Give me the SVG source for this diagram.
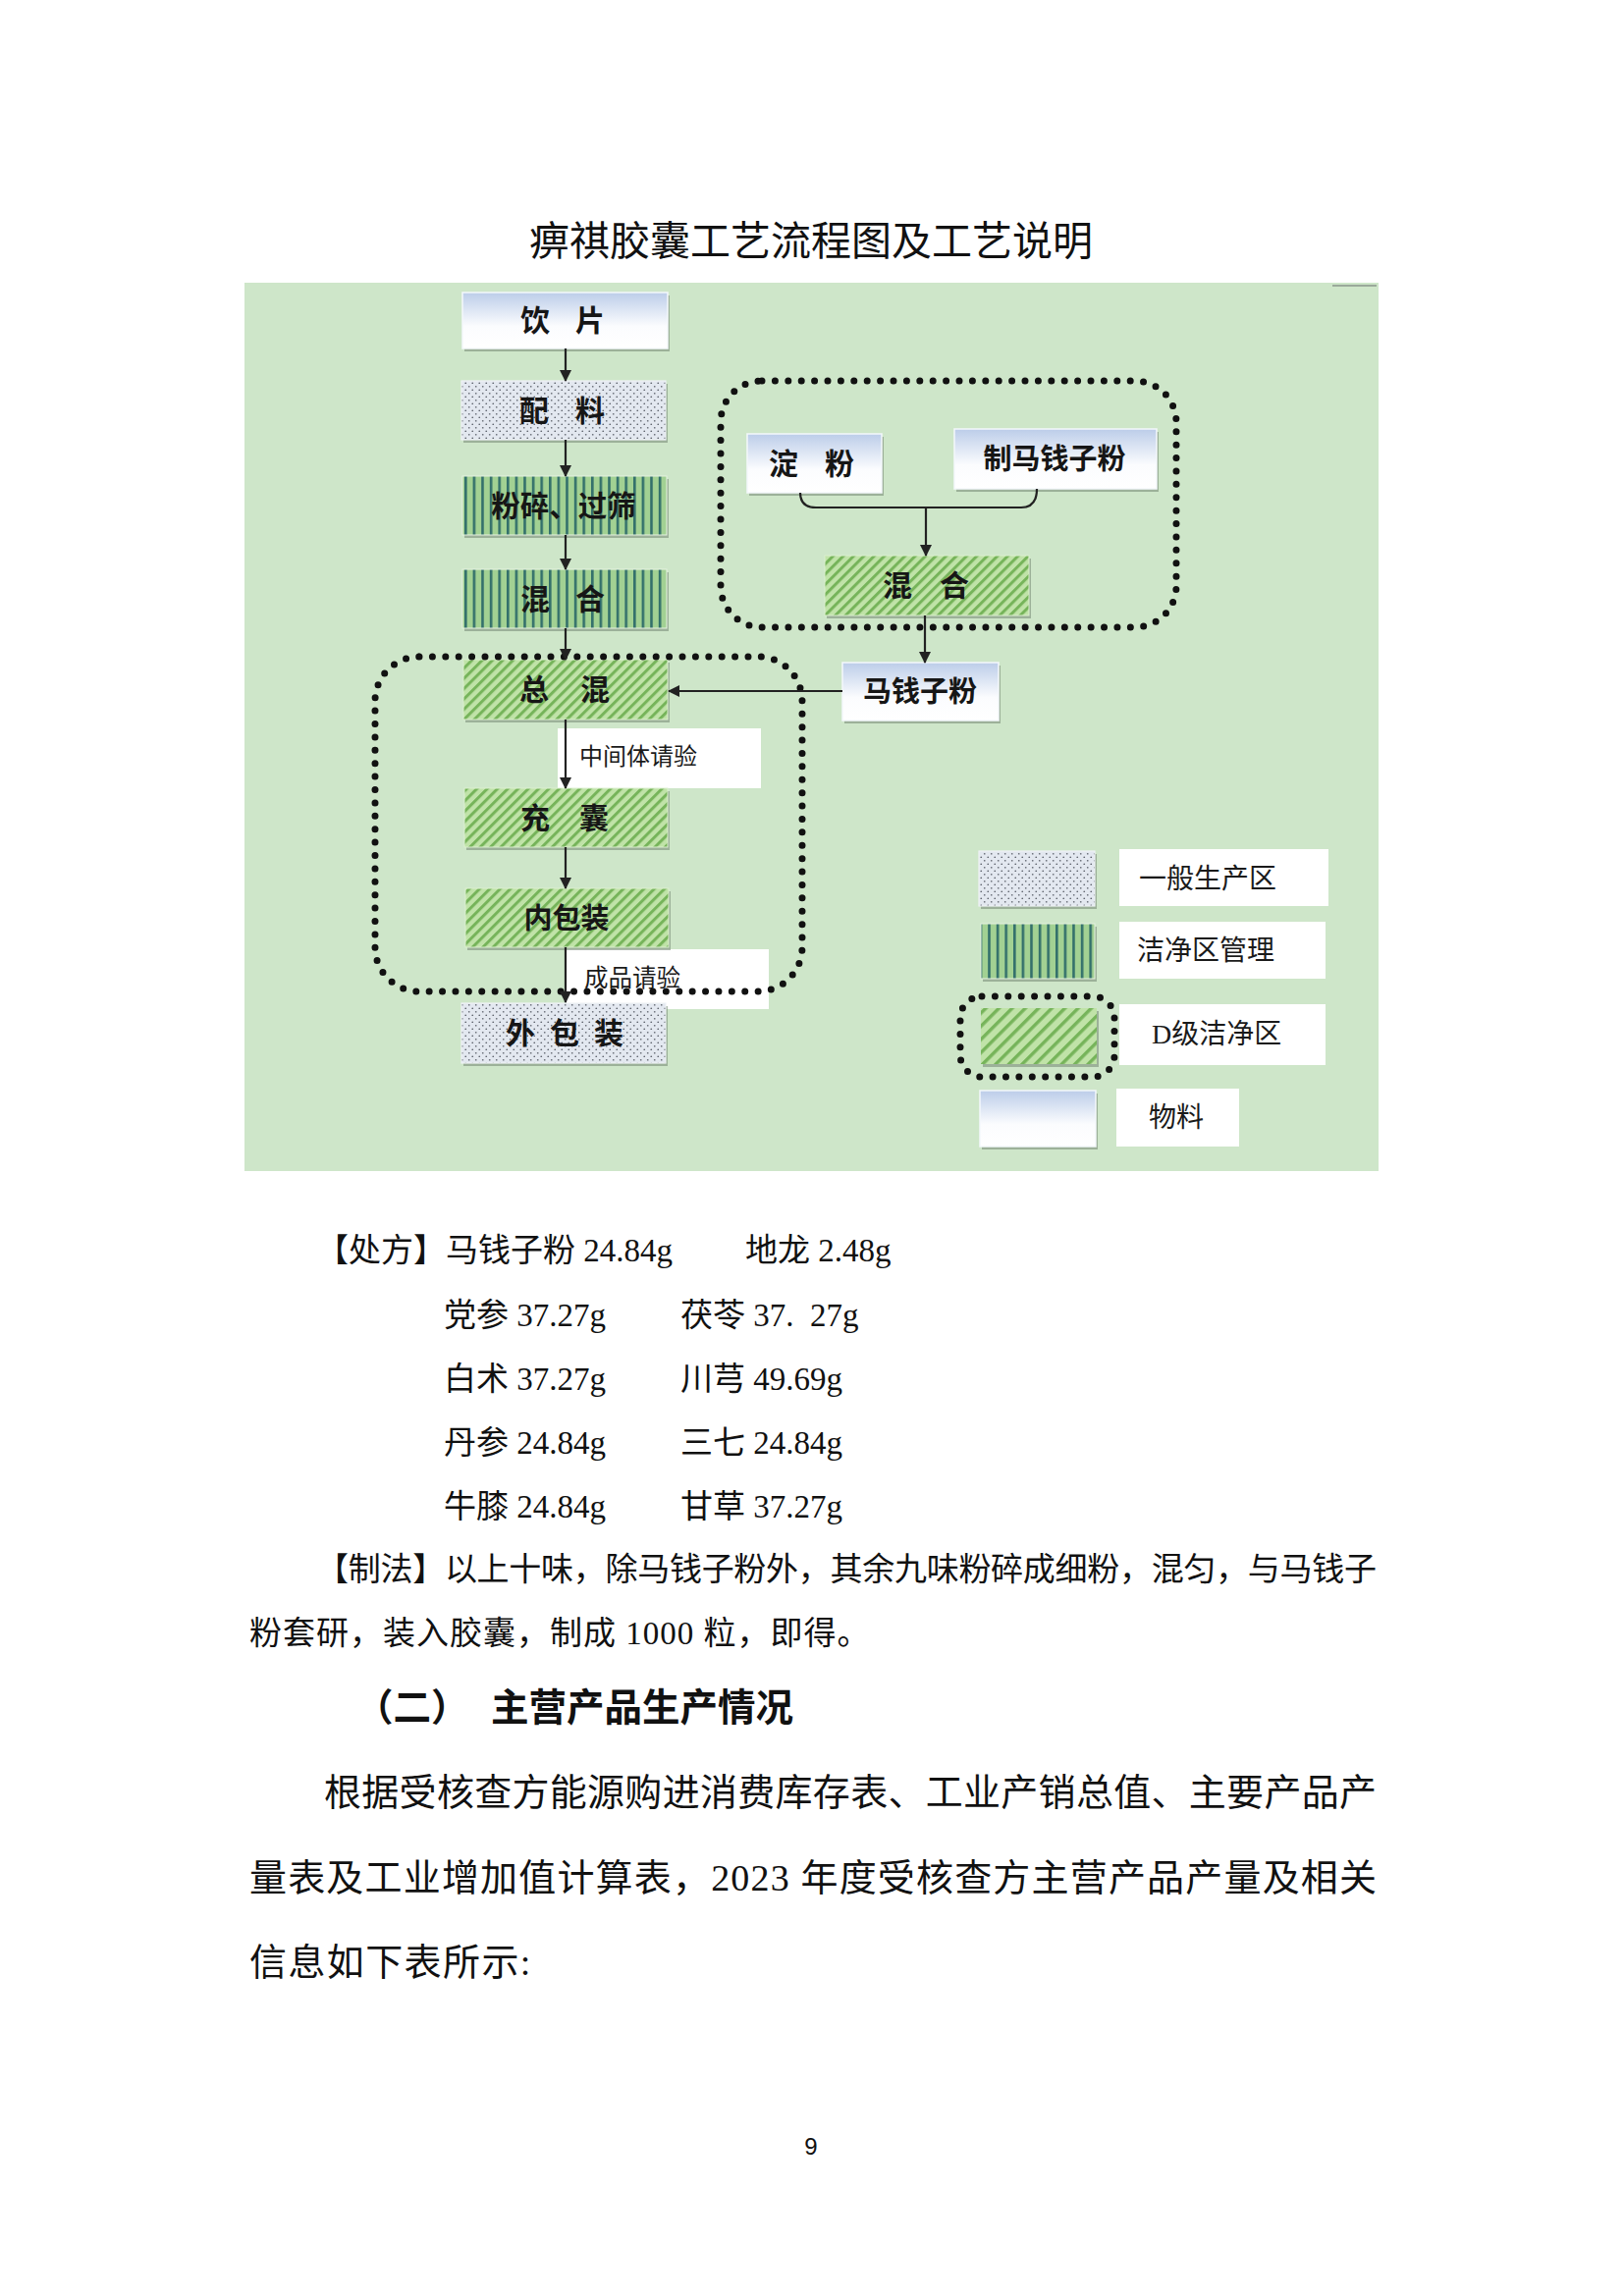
<svg xmlns="http://www.w3.org/2000/svg" width="1654" height="2339" viewBox="0 0 1654 2339">
<style>
.body{font-family:"Liberation Serif","Noto Sans CJK SC",serif;font-size:33px;fill:#111}
.para{font-family:"Liberation Serif","Noto Sans CJK SC",serif;font-size:38px;fill:#111}
.h2{font-family:"Noto Sans CJK SC","Noto Sans",sans-serif;font-size:38.5px;font-weight:700;fill:#111}
.lbl{font-family:"Noto Sans CJK SC","Noto Sans",sans-serif;font-size:30px;font-weight:700;fill:#161616}
.note{font-family:"Noto Sans CJK SC","Noto Sans",sans-serif;font-size:24px;fill:#1a1a1a}
.leg{font-family:"Liberation Serif","Noto Sans CJK SC",sans-serif;font-size:28px;fill:#1a1a1a}
.sh{fill:#7c8e79;opacity:0.6}
.mat{fill:url(#matGrad);stroke:#f4f8fb;stroke-width:1.5}
.gen{fill:url(#dots);stroke:#eef2f6;stroke-width:1.2}
.cln{fill:url(#vstripe);stroke:#e6f2e2;stroke-width:1}
.dzone{fill:url(#hatch);stroke:#dcefd0;stroke-width:1}
.white{fill:#ffffff}
.dotted{fill:none;stroke:#111;stroke-width:7;stroke-linecap:round;stroke-dasharray:0 13.4}
.conn{fill:none;stroke:#222;stroke-width:2.2}
</style>
<defs>
<linearGradient id="matGrad" x1="0" y1="0" x2="0" y2="1">
<stop offset="0" stop-color="#bccde9"/>
<stop offset="0.6" stop-color="#fbfcfe"/>
<stop offset="1" stop-color="#ffffff"/>
</linearGradient>
<pattern id="dots" width="7" height="7" patternUnits="userSpaceOnUse">
<rect width="7" height="7" fill="#e3e8f0"/>
<circle cx="1.75" cy="1.75" r="0.85" fill="#5f646e"/>
<circle cx="5.25" cy="5.25" r="0.85" fill="#5f646e"/>
</pattern>
<pattern id="vstripe" width="8.6" height="10" patternUnits="userSpaceOnUse">
<rect width="8.6" height="10" fill="#a2d193"/>
<rect x="0" width="2.6" height="10" fill="#33706b"/>
</pattern>
<pattern id="hatch" width="7.4" height="10" patternUnits="userSpaceOnUse" patternTransform="rotate(45)">
<rect width="7.4" height="10" fill="#c0e3a8"/>
<rect width="3" height="10" fill="#76b45a"/>
</pattern>
<pattern id="hatchL" width="9.5" height="10" patternUnits="userSpaceOnUse" patternTransform="rotate(45)">
<rect width="9.5" height="10" fill="#c0e3a8"/>
<rect width="3.4" height="10" fill="#76b45a"/>
</pattern>
<marker id="arr" viewBox="0 0 12 12" refX="11" refY="6" markerWidth="12" markerHeight="12" markerUnits="userSpaceOnUse" orient="auto">
<path d="M0,0 L12,6 L0,12 z" fill="#222"/>
</marker>
</defs>

<rect x="0" y="0" width="1654" height="2339" fill="#ffffff"/>

<text x="826" y="260" text-anchor="middle" style="font-family:'Liberation Serif','Noto Sans CJK SC',serif;font-size:41px;fill:#111">痹祺胶囊工艺流程图及工艺说明</text>

<g id="panel">
<rect x="249" y="288" width="1155" height="905" fill="#cee6c9"/>
<line x1="1357" y1="291" x2="1402" y2="291" stroke="#9aa99a" stroke-width="2"/>
</g>

<g id="labels-white">
<rect class="white" x="568" y="742" width="207" height="61"/>
<text class="note" x="590" y="779">中间体请验</text>
<rect class="white" x="577" y="967" width="206" height="61"/>
<text class="note" x="595" y="1005" style="font-size:24.5px">成品请验</text>
</g>

<g id="n-yinpian">
<rect class="sh" x="473" y="301" width="209" height="57"/>
<rect class="mat" x="471" y="298" width="209" height="57"/>
<text class="lbl" x="530 560 586" y="337">饮 片</text>
</g>
<g id="n-peiliao">
<rect class="sh" x="472" y="391" width="208" height="60"/>
<rect class="gen" x="470" y="388" width="208" height="60"/>
<text class="lbl" x="529 560 586" y="429">配 料</text>
</g>
<g id="n-fensui">
<rect class="sh" x="473" y="488" width="208" height="60"/>
<rect class="cln" x="471" y="485" width="208" height="60"/>
<text class="lbl" x="574" y="526" text-anchor="middle" style="font-size:29.5px">粉碎、过筛</text>
</g>
<g id="n-hunhe1">
<rect class="sh" x="473" y="583" width="208" height="60"/>
<rect class="cln" x="471" y="580" width="208" height="60"/>
<text class="lbl" x="530 560 586" y="621">混 合</text>
</g>
<g id="n-zonghun">
<rect class="sh" x="474" y="675" width="208" height="61"/>
<rect class="dzone" x="472" y="672" width="208" height="61"/>
<text class="lbl" x="529 560 591" y="713">总 混</text>
</g>
<g id="n-chongnang">
<rect class="sh" x="475" y="806" width="207" height="60"/>
<rect class="dzone" x="473" y="803" width="207" height="60"/>
<text class="lbl" x="530 560 590" y="844">充 囊</text>
</g>
<g id="n-neibaozhuang">
<rect class="sh" x="476" y="908" width="207" height="60"/>
<rect class="dzone" x="474" y="905" width="207" height="60"/>
<text class="lbl" x="577" y="946" text-anchor="middle" style="font-size:29px">内包装</text>
</g>
<g id="n-waibaozhuang">
<rect class="sh" x="472" y="1025" width="208" height="61"/>
<rect class="gen" x="470" y="1022" width="208" height="61"/>
<text class="lbl" x="515 545 560 590 605" y="1063">外 包 装</text>
</g>
<g id="n-dianfen">
<rect class="sh" x="763" y="445" width="137" height="60"/>
<rect class="mat" x="761" y="442" width="137" height="60"/>
<text class="lbl" x="783 815 840" y="483">淀 粉</text>
</g>
<g id="n-zhimaqianzifen">
<rect class="sh" x="974" y="440" width="206" height="61"/>
<rect class="mat" x="972" y="437" width="206" height="61"/>
<text class="lbl" x="1074" y="478" text-anchor="middle" style="font-size:29px">制马钱子粉</text>
</g>
<g id="n-hunhe2">
<rect class="sh" x="842" y="569" width="208" height="61"/>
<rect class="dzone" x="840" y="566" width="208" height="61"/>
<text class="lbl" x="899 930 957" y="607">混 合</text>
</g>
<g id="n-maqianzifen">
<rect class="sh" x="860" y="678" width="159" height="59"/>
<rect class="mat" x="858" y="675" width="159" height="59"/>
<text class="lbl" x="937" y="715" text-anchor="middle" style="font-size:29px">马钱子粉</text>
</g>

<g id="zones">
<rect class="dotted" x="734" y="388" width="464" height="251" rx="42"/>
<rect class="dotted" x="382" y="669" width="435" height="341" rx="45"/>
</g>

<g id="connectors">
<line class="conn" x1="576" y1="355" x2="576" y2="388" marker-end="url(#arr)"/>
<line class="conn" x1="576" y1="448" x2="576" y2="485" marker-end="url(#arr)"/>
<line class="conn" x1="576" y1="545" x2="576" y2="580" marker-end="url(#arr)"/>
<line class="conn" x1="576" y1="640" x2="576" y2="672" marker-end="url(#arr)"/>
<line class="conn" x1="576" y1="733" x2="576" y2="803" marker-end="url(#arr)"/>
<line class="conn" x1="576" y1="863" x2="576" y2="905" marker-end="url(#arr)"/>
<line class="conn" x1="576" y1="965" x2="576" y2="1021" marker-end="url(#arr)"/>
<path class="conn" d="M815,502 Q815,517 831,517 L1040,517 Q1056,517 1056,498"/>
<line class="conn" x1="943" y1="517" x2="943" y2="566" marker-end="url(#arr)"/>
<line class="conn" x1="942" y1="627" x2="942" y2="675" marker-end="url(#arr)"/>
<line class="conn" x1="858" y1="704" x2="681" y2="704" marker-end="url(#arr)"/>
</g>

<g id="legend">
<g id="leg-general">
<rect class="sh" x="999" y="870" width="118" height="56"/>
<rect class="gen" x="997" y="867" width="118" height="56"/>
<rect class="white" x="1140" y="865" width="213" height="58"/>
<text class="leg" x="1160" y="905">一般生产区</text>
</g>
<g id="leg-clean">
<rect class="sh" x="1001" y="944" width="116" height="56"/>
<rect class="cln" x="999" y="941" width="116" height="56"/>
<rect class="white" x="1140" y="939" width="210" height="58"/>
<text class="leg" x="1158" y="978">洁净区管理</text>
</g>
<g id="leg-d">
<rect class="sh" x="1001" y="1030" width="118" height="57"/>
<rect x="999" y="1027" width="118" height="57" fill="url(#hatchL)"/>
<rect class="dotted" x="978" y="1015" width="157" height="82" rx="22"/>
<rect class="white" x="1140" y="1023" width="210" height="62"/>
<text class="leg" x="1173" y="1063">D级洁净区</text>
</g>
<g id="leg-material">
<rect class="sh" x="1000" y="1114" width="118" height="57"/>
<rect class="mat" x="998" y="1111" width="118" height="57"/>
<rect class="white" x="1137" y="1109" width="125" height="59"/>
<text class="leg" x="1170" y="1148">物料</text>
</g>
</g>

<g id="text-body">
<text class="body" x="322" y="1285">【处方】马钱子粉 24.84g</text>
<text class="body" x="759" y="1285">地龙 2.48g</text>
<text class="body" x="452" y="1351">党参 37.27g</text>
<text class="body" x="693" y="1351" xml:space="preserve">茯苓 37.  27g</text>
<text class="body" x="452" y="1416">白术 37.27g</text>
<text class="body" x="693" y="1416">川芎 49.69g</text>
<text class="body" x="452" y="1481">丹参 24.84g</text>
<text class="body" x="693" y="1481">三七 24.84g</text>
<text class="body" x="452" y="1546">牛膝 24.84g</text>
<text class="body" x="693" y="1546">甘草 37.27g</text>
<text class="body" x="322" y="1610" textLength="1080" lengthAdjust="spacing">【制法】以上十味，除马钱子粉外，其余九味粉碎成细粉，混匀，与马钱子</text>
<text class="body" x="254" y="1675" style="letter-spacing:1px">粉套研，装入胶囊，制成 1000 粒，即得。</text>
<text class="h2" x="362" y="1753">（二）<tspan x="500">主营产品生产情况</tspan></text>
<text class="para" x="330" y="1839" textLength="1072" lengthAdjust="spacing">根据受核查方能源购进消费库存表、工业产销总值、主要产品产</text>
<text class="para" x="254" y="1926" textLength="1148" lengthAdjust="spacing">量表及工业增加值计算表，2023 年度受核查方主营产品产量及相关</text>
<text class="para" x="254" y="2012" style="letter-spacing:1.4px">信息如下表所示:</text>
<text x="826" y="2195" text-anchor="middle" style="font-family:'Liberation Sans',sans-serif;font-size:24px;fill:#111">9</text>
</g>
</svg>
